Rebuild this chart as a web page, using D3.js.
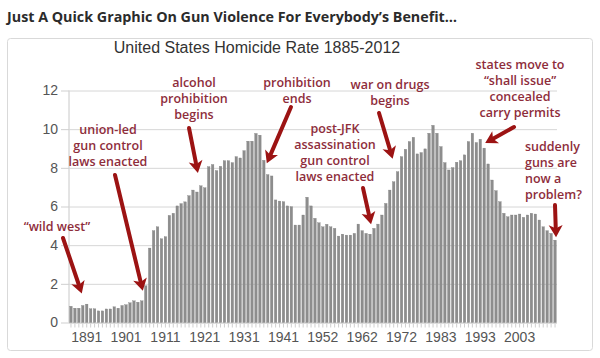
<!DOCTYPE html>
<html><head><meta charset="utf-8">
<script src="https://cdn.jsdelivr.net/npm/d3@7"></script>
<style>
html,body{margin:0;padding:0;background:#fff;}
svg{display:block;}
</style></head>
<body>
<svg id="chart" width="600" height="358"></svg>
<script>
// ---- DATA ----
const years = [];
for (let yr = 1887; yr <= 1945; yr++) years.push(String(yr));
for (let yr = 1947; yr <= 1975; yr++) years.push(String(yr));
for (let yr = 1977; yr <= 2012; yr++) years.push(String(yr));

const homicideRate = [
  0.84, 0.74, 0.74, 0.88, 0.95, 0.71, 0.71, 0.60, 0.60, 0.70,
  0.70, 0.81, 0.74, 0.88, 0.92, 1.02, 1.12, 1.05, 1.12, 1.90,
  3.85, 4.75, 4.95, 4.33, 4.44, 5.54, 5.65, 6.03, 6.15, 6.24,
  6.56, 6.85, 6.75, 7.07, 6.97, 8.06, 8.17, 7.86, 8.08, 8.37,
  8.37, 8.27, 8.58, 8.51, 8.89, 9.38, 9.38,
  9.78, 9.69, 8.39, 7.65, 7.58, 6.34, 6.28, 6.25, 6.03, 5.99,
  5.04, 5.04, 5.56, 6.48, 6.03, 5.39, 5.16, 4.95, 5.08, 4.95,
  4.87, 4.47, 4.57, 4.52, 4.52, 4.61, 5.09, 4.75, 4.61, 4.57,
  4.87, 5.09, 5.56, 6.16, 6.85, 7.28,
  7.80, 8.58, 8.96, 9.36, 9.58, 8.72, 8.79, 8.98, 9.79, 10.20,
  9.79, 9.10, 8.27, 7.89, 8.01, 8.29, 8.37, 8.67, 9.36, 9.79,
  9.31, 9.48, 9.02, 8.20, 7.37, 6.82, 6.25, 5.65, 5.47, 5.56,
  5.56, 5.61, 5.44, 5.56, 5.65, 5.61, 5.30, 4.95, 4.75, 4.61, 4.26
];

const yTicks = [0, 2, 4, 6, 8, 10, 12];
const xTickLabels = ["1891","1901","1911","1921","1931","1941","1952","1962","1972","1983","1993","2003"];

const pageTitle = "Just A Quick Graphic On Gun Violence For Everybody\u2019s Benefit\u2026";
const chartTitle = "United States Homicide Rate 1885-2012";

// annotation texts, anchored to a category
const annoTexts = [
  ["\u201Cwild west\u201D"],
  ["union-led", "gun control", "laws enacted"],
  ["alcohol", "prohibition", "begins"],
  ["prohibition", "ends"],
  ["post-JFK", "assassination", "gun control", "laws enacted"],
  ["war on drugs", "begins"],
  ["states move to", "\u201Cshall issue\u201D", "concealed", "carry permits"],
  ["suddenly", "guns are", "now a", "problem?"]
];
const annoYears = ["1890", "1905", "1919", "1936", "1964", "1970", "1994", "2012"];

// ---- LAYOUT ----
const svg = d3.select("#chart");
const L = 69, R = 557, T = 90.5, B = 322.5;

const x = d3.scaleBand().domain(years).range([L, R]).paddingInner(0.36).paddingOuter(0.18);
const y = d3.scaleLinear().domain([0, 12]).range([B, T]);

// outer frame
svg.append("rect").attr("x", 7.5).attr("y", 38.5).attr("width", 585).attr("height", 312)
  .attr("rx", 3).attr("fill", "#fff").attr("stroke", "#d9d9d9");

// page title
svg.append("text").attr("x", 7).attr("y", 22)
  .attr("font-family", "Open Sans, sans-serif").attr("font-weight", 700)
  .attr("font-size", 14.5).attr("fill", "#2b2b2b")
  .attr("textLength", 450).attr("lengthAdjust", "spacingAndGlyphs")
  .text(pageTitle);

// chart title
svg.append("text").attr("x", 257).attr("y", 53).attr("text-anchor", "middle")
  .attr("font-family", "Liberation Sans, Arial, sans-serif")
  .attr("font-size", 16).attr("fill", "#333").text(chartTitle);

// gridlines + y axis
const gy = svg.append("g").attr("transform", `translate(${L},0)`)
  .call(d3.axisLeft(y).tickValues(yTicks).tickSize(8).tickPadding(3).tickFormat(d3.format("d")));
gy.select(".domain").attr("stroke", "#c8c8c8").attr("d", `M0,${T}V${B}`);
gy.selectAll(".tick line").attr("stroke", "#cfcfcf");
gy.selectAll(".tick text").attr("font-family", "Liberation Sans, Arial, sans-serif")
  .attr("font-size", 14).attr("fill", "#555");
svg.append("g").attr("transform", `translate(${L},0)`)
  .call(d3.axisLeft(y).tickValues(yTicks).tickSize(-(R - L)).tickFormat(""))
  .call(g => g.select(".domain").remove())
  .selectAll(".tick line").attr("stroke", d => d === 0 ? "#bdbdbd" : "#d6d6d6");

// minor category ticks
svg.append("g").attr("transform", `translate(0,${B + 1})`)
  .call(d3.axisBottom(x).tickSize(4).tickFormat(""))
  .call(g => g.select(".domain").remove())
  .selectAll(".tick line").attr("stroke", "#cfcfcf");

// x labels
const gx = svg.append("g").attr("transform", `translate(0,${B})`)
  .call(d3.axisBottom(x).tickValues(xTickLabels).tickSize(0).tickPadding(10));
gx.select(".domain").remove();
gx.selectAll(".tick text").attr("font-family", "Liberation Sans, Arial, sans-serif")
  .attr("font-size", 14).attr("fill", "#555");

// bars
svg.append("g").selectAll("rect").data(homicideRate).join("rect")
  .attr("x", (d, i) => x(years[i]))
  .attr("width", x.bandwidth())
  .attr("y", d => y(d))
  .attr("height", d => y(0) - y(d))
  .attr("fill", "#8d8d8d")
  .attr("stroke", "#7a7a7a").attr("stroke-width", 0.3);

// ---- ANNOTATIONS ----
const textColor = "#8e2d3b", arrowColor = "#9c1313";
// label anchor (x, first-line y, anchor) and arrow (from -> tip), placed relative to bars
const cx = yr => x(yr) + x.bandwidth() / 2;
const val = yr => homicideRate[years.indexOf(yr)];
const layout = [
  {tx: 57,  ty: 231, anchor: "middle", from: [63, 238],  tip: [cx("1890") - 1, y(val("1890")) - 12]},
  {tx: 108, ty: 134, anchor: "middle", from: [115, 175], tip: [cx("1905") + 1, y(val("1905")) - 10]},
  {tx: 194, ty: 87,  anchor: "middle", from: [189, 128], tip: [cx("1919") + 1, y(val("1919")) - 19]},
  {tx: 297, ty: 87,  anchor: "middle", from: [291, 107], tip: [cx("1936") + 3, y(val("1936")) + 3]},
  {tx: 335, ty: 133, anchor: "middle", from: [363, 188], tip: [cx("1964") + 1, y(val("1964")) - 10]},
  {tx: 390, ty: 89,  anchor: "middle", from: [379, 113], tip: [cx("1970") - 1, y(val("1970")) - 23]},
  {tx: 520, ty: 69,  anchor: "middle", from: [514, 127], tip: [cx("1994") + 1, y(val("1994")) - 5]},
  {tx: 525, ty: 151, anchor: "start",  from: [555, 205], tip: [cx("2012") + 1, y(val("2012")) - 3]}
];

const ag = svg.append("g");
annoTexts.forEach((lines, k) => {
  const p = layout[k];
  const t = ag.append("text").attr("x", p.tx).attr("y", p.ty)
    .attr("text-anchor", p.anchor)
    .attr("font-family", "Open Sans, sans-serif").attr("font-weight", 600)
    .attr("font-size", 12.5).attr("fill", textColor);
  lines.forEach((s, j) => t.append("tspan").attr("x", p.tx).attr("dy", j === 0 ? 0 : 16).text(s));

  // arrow
  const [x0, y0] = p.from, [x1, y1] = p.tip;
  const dx = x1 - x0, dy = y1 - y0, len = Math.hypot(dx, dy);
  const ux = dx / len, uy = dy / len, nx = -uy, ny = ux;
  const hl = 12, hw = 7;
  const bx = x1 - ux * hl, by = y1 - uy * hl;
  ag.append("line").attr("x1", x0).attr("y1", y0).attr("x2", bx + ux * 2).attr("y2", by + uy * 2)
    .attr("stroke", arrowColor).attr("stroke-width", 4).attr("stroke-linecap", "round");
  ag.append("path")
    .attr("d", `M${x1},${y1}L${bx + nx * hw},${by + ny * hw}L${bx + ux * 3},${by + uy * 3}L${bx - nx * hw},${by - ny * hw}Z`)
    .attr("fill", arrowColor);
});
</script>
</body></html>
